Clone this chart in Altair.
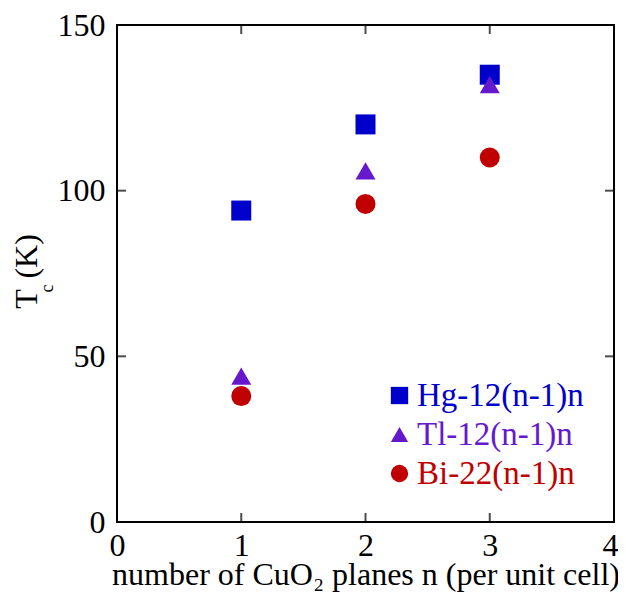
import altair as alt
import pandas as pd

# ---- data ----
series = ["Hg-12(n-1)n", "Tl-12(n-1)n", "Bi-22(n-1)n"]
n_planes = [1, 2, 3]
tc_hg = [94, 120, 135]
tc_tl = [44, 106, 132]
tc_bi = [38, 96, 110]
shapes = ["square", "triangle-up", "circle"]
colors = ["#0000CC", "#6619CC", "#C00000"]
x_ticks = [0, 1, 2, 3, 4]
y_ticks = [0, 50, 100, 150]
x_title = "number of CuO₂ planes n (per unit cell)"
y_title_main = "T\u200a  (K)"
y_title_sub = "c"

rows = []
for name, vals in zip(series, [tc_hg, tc_tl, tc_bi]):
    for n, v in zip(n_planes, vals):
        rows.append({"series": name, "n": n, "tc": v})
df = pd.DataFrame(rows)
df["order"] = df["series"].map({s: i for i, s in enumerate(series)})

W, H = 497, 497
FONT = "Liberation Serif"
FS = 32

xscale = alt.Scale(domain=[0, 4], nice=False, zero=False)
yscale = alt.Scale(domain=[0, 150], nice=False, zero=False)

label_expr = (
    f"datum.label == '{series[0]}' ? '{colors[0]}' : "
    f"datum.label == '{series[1]}' ? '{colors[1]}' : '{colors[2]}'"
)
last_x = x_ticks[-1]

points = alt.Chart(df).mark_point(filled=True, opacity=1, size=400, strokeWidth=0).encode(
    x=alt.X("n:Q", scale=xscale,
            axis=alt.Axis(values=x_ticks, title=x_title,
                          format="d", grid=False, ticks=False, domain=False,
                          labelPadding=8, titleBaseline="alphabetic", titleY=62,
                          labelAlign={"condition": {"test": f"datum.value == {last_x}", "value": "right"},
                                      "value": "center"},
                          labelOffset={"condition": {"test": f"datum.value == {last_x}", "value": 4},
                                       "value": 0})),
    y=alt.Y("tc:Q", scale=yscale,
            axis=alt.Axis(values=y_ticks, title=y_title_main, format="d", grid=False,
                          ticks=False, domain=False, labelPadding=12, titlePadding=14,
                          titleY=246, titleAlign="center")),
    color=alt.Color("series:N", scale=alt.Scale(domain=series, range=colors),
                    legend=alt.Legend(orient="none", legendX=266, legendY=354, title=None,
                                      labelFont=FONT, labelFontSize=33, symbolSize=300,
                                      rowPadding=5, padding=0, labelOffset=1, labelLimit=0,
                                      symbolStrokeWidth=0, symbolOpacity=1,
                                      labelColor={"expr": label_expr})),
    shape=alt.Shape("series:N", scale=alt.Scale(domain=series, range=shapes)),
    order=alt.Order("order:Q"),
)

xt = pd.DataFrame({"v": x_ticks[1:-1]})
yt = pd.DataFrame({"v": y_ticks[1:-1]})
tick_style = dict(color="black", thickness=2, size=9)

bot = alt.Chart(xt).mark_tick(orient="vertical", **tick_style).encode(
    x=alt.X("v:Q", scale=xscale), y=alt.value(H - 4.5))
top = alt.Chart(xt).mark_tick(orient="vertical", **tick_style).encode(
    x=alt.X("v:Q", scale=xscale), y=alt.value(4.5))
left = alt.Chart(yt).mark_tick(orient="horizontal", **tick_style).encode(
    y=alt.Y("v:Q", scale=yscale), x=alt.value(4.5))
right = alt.Chart(yt).mark_tick(orient="horizontal", **tick_style).encode(
    y=alt.Y("v:Q", scale=yscale), x=alt.value(W - 4.5))

sub = alt.Chart(pd.DataFrame({"t": [y_title_sub]})).mark_text(
    font=FONT, fontSize=18, angle=270, align="center", baseline="middle", color="black"
).encode(text="t:N", x=alt.value(-69), y=alt.value(263.5))

chart = alt.layer(bot, top, left, right, points, sub).properties(
    width=W, height=H, background="white",
    autosize=alt.AutoSizeParams(type="none"),
    padding={"left": 109, "top": 17, "right": 4, "bottom": 70}
).configure_view(
    stroke="black", strokeWidth=2
).configure_axis(
    labelFont=FONT, titleFont=FONT, labelFontSize=FS, titleFontSize=FS,
    labelColor="black", titleColor="black", titleFontWeight="normal",
    labelFlush=False, labelOverlap=False
)

chart.save("out.html", embed_options={"renderer": "svg", "actions": False})
